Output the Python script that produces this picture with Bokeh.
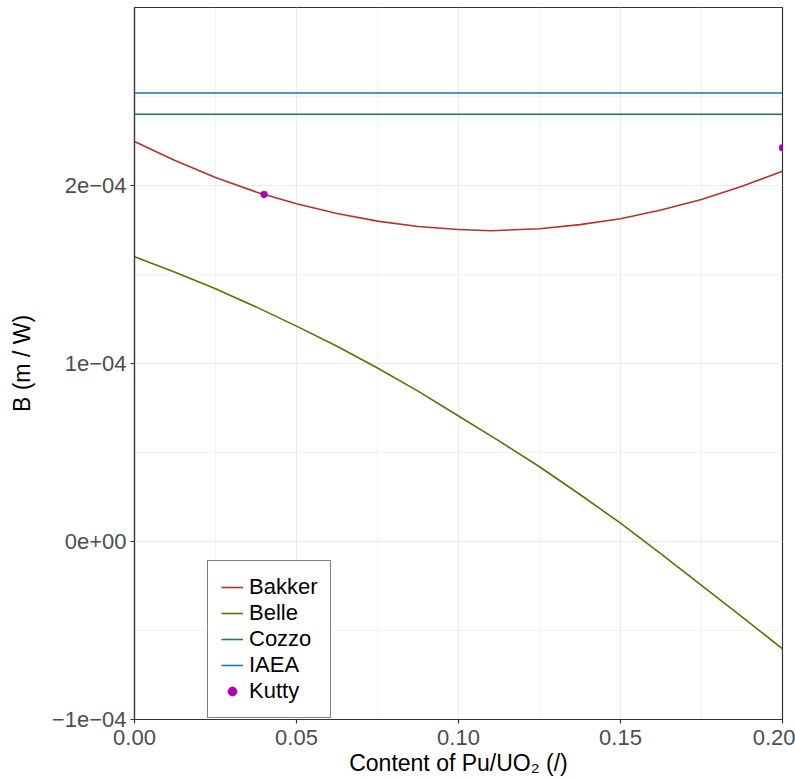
from bokeh.plotting import figure
from bokeh.models import (Range1d, FixedTicker, CustomJSTickFormatter, Legend, LegendItem)
from bokeh.embed import file_html
from bokeh.resources import INLINE

# ---- data ----
x_bakker = [0.0, 0.0125, 0.025, 0.0375, 0.05, 0.0625, 0.075, 0.0875, 0.10, 0.11,
            0.125, 0.1375, 0.15, 0.1625, 0.175, 0.1875, 0.20]
bakker = [2.247e-4, 2.140e-4, 2.045e-4, 1.964e-4, 1.897e-4, 1.843e-4, 1.800e-4, 1.770e-4,
          1.753e-4, 1.746e-4, 1.757e-4, 1.780e-4, 1.813e-4, 1.862e-4, 1.921e-4, 1.996e-4, 2.080e-4]

x_belle = [0.0, 0.0125, 0.025, 0.0375, 0.05, 0.0625, 0.075, 0.0875, 0.10,
           0.1125, 0.125, 0.1375, 0.15, 0.1625, 0.175, 0.1875, 0.20]
belle = [1.600e-4, 1.513e-4, 1.420e-4, 1.318e-4, 1.210e-4, 1.097e-4, 0.975e-4, 0.845e-4, 0.705e-4,
         0.565e-4, 0.420e-4, 0.264e-4, 0.103e-4, -0.070e-4, -0.247e-4, -0.423e-4, -0.603e-4]

x_const = [0.0, 0.20]
cozzo = [2.40e-4, 2.40e-4]
iaea = [2.52e-4, 2.52e-4]

x_kutty = [0.04, 0.20]
kutty = [1.95e-4, 2.212e-4]

x_ticks = [0.0, 0.05, 0.10, 0.15, 0.20]
y_ticks = [-1e-4, 0.0, 1e-4, 2e-4]

FONT = "Liberation Sans"

p = figure(width=795, height=780, output_backend="svg", toolbar_location=None,
           x_range=Range1d(0, 0.2), y_range=Range1d(-1e-4, 3e-4),
           min_border_left=134, min_border_right=13, min_border_top=7, min_border_bottom=61)
p.background_fill_color = "white"
p.border_fill_color = "white"
p.outline_line_color = "#333333"
p.outline_line_width = 1.2

# grids
p.xgrid.ticker = FixedTicker(ticks=x_ticks, minor_ticks=[0.025, 0.075, 0.125, 0.175])
p.ygrid.ticker = FixedTicker(ticks=y_ticks, minor_ticks=[-0.5e-4, 0.5e-4, 1.5e-4, 2.5e-4])
for g in (p.xgrid, p.ygrid):
    g.grid_line_color = "#EBEBEB"
    g.grid_line_width = 1.1
    g.minor_grid_line_color = "#EBEBEB"
    g.minor_grid_line_width = 0.6

# axes
p.xaxis.ticker = FixedTicker(ticks=x_ticks)
p.yaxis.ticker = FixedTicker(ticks=y_ticks)
p.xaxis.formatter = CustomJSTickFormatter(code="return tick.toFixed(2);")
p.yaxis.formatter = CustomJSTickFormatter(code="""
if (Math.abs(tick) < 1e-12) { return "0e+00"; }
var e = Math.floor(Math.log10(Math.abs(tick)) + 1e-9);
var m = Math.round(tick / Math.pow(10, e));
var s = (m < 0 ? "\u2212" : "") + Math.abs(m) + "e" + (e < 0 ? "\u2212" : "+") + String(Math.abs(e)).padStart(2, "0");
return s;
""")
for ax in (p.xaxis, p.yaxis):
    ax.axis_line_color = "#333333"
    ax.axis_line_width = 1.2
    ax.major_tick_line_color = "#333333"
    ax.major_tick_line_width = 1.2
    ax.major_tick_out = 4
    ax.major_tick_in = 0
    ax.minor_tick_line_color = None
    ax.major_label_text_font = FONT
    ax.major_label_text_font_size = "22px"
    ax.major_label_text_color = "#4D4D4D"
    ax.axis_label_text_font = FONT
    ax.axis_label_text_font_size = "23px"
    ax.axis_label_text_font_style = "normal"
    ax.axis_label_text_color = "black"
p.xaxis.axis_label = "Content of Pu/UO\u2082 (/)"
p.yaxis.axis_label = "B (m / W)"
p.xaxis.major_label_standoff = 6
p.yaxis.major_label_standoff = 4
p.xaxis.axis_label_standoff = 2
p.yaxis.axis_label_standoff = 14

# series
r_bakker = p.line(x_bakker, bakker, line_color="#B8312A", line_width=1.6)
r_belle = p.line(x_belle, belle, line_color="#6B6B00", line_width=1.6)
r_cozzo = p.line(x_const, cozzo, line_color="#1A7F4A", line_width=1.6)
r_iaea = p.line(x_const, iaea, line_color="#1B75BC", line_width=1.6)
r_kutty = p.scatter(x_kutty, kutty, size=6.5, fill_color="#B000B5", line_color="#B000B5")

legend = Legend(items=[
    LegendItem(label="Bakker", renderers=[r_bakker]),
    LegendItem(label="Belle", renderers=[r_belle]),
    LegendItem(label="Cozzo", renderers=[r_cozzo]),
    LegendItem(label="IAEA", renderers=[r_iaea]),
    LegendItem(label="Kutty", renderers=[r_kutty]),
], location=(73, 1))
legend.label_text_font = FONT
legend.label_text_font_size = "22px"
legend.label_text_color = "black"
legend.label_height = 26
legend.glyph_height = 26
legend.glyph_width = 22
legend.label_standoff = 6
legend.spacing = 0
legend.padding = 13
legend.margin = 0
legend.border_line_color = "black"
legend.border_line_width = 1.5
legend.background_fill_color = "white"
legend.background_fill_alpha = 1.0
p.add_layout(legend, "center")

open("out.html", "w").write(file_html(p, INLINE))
